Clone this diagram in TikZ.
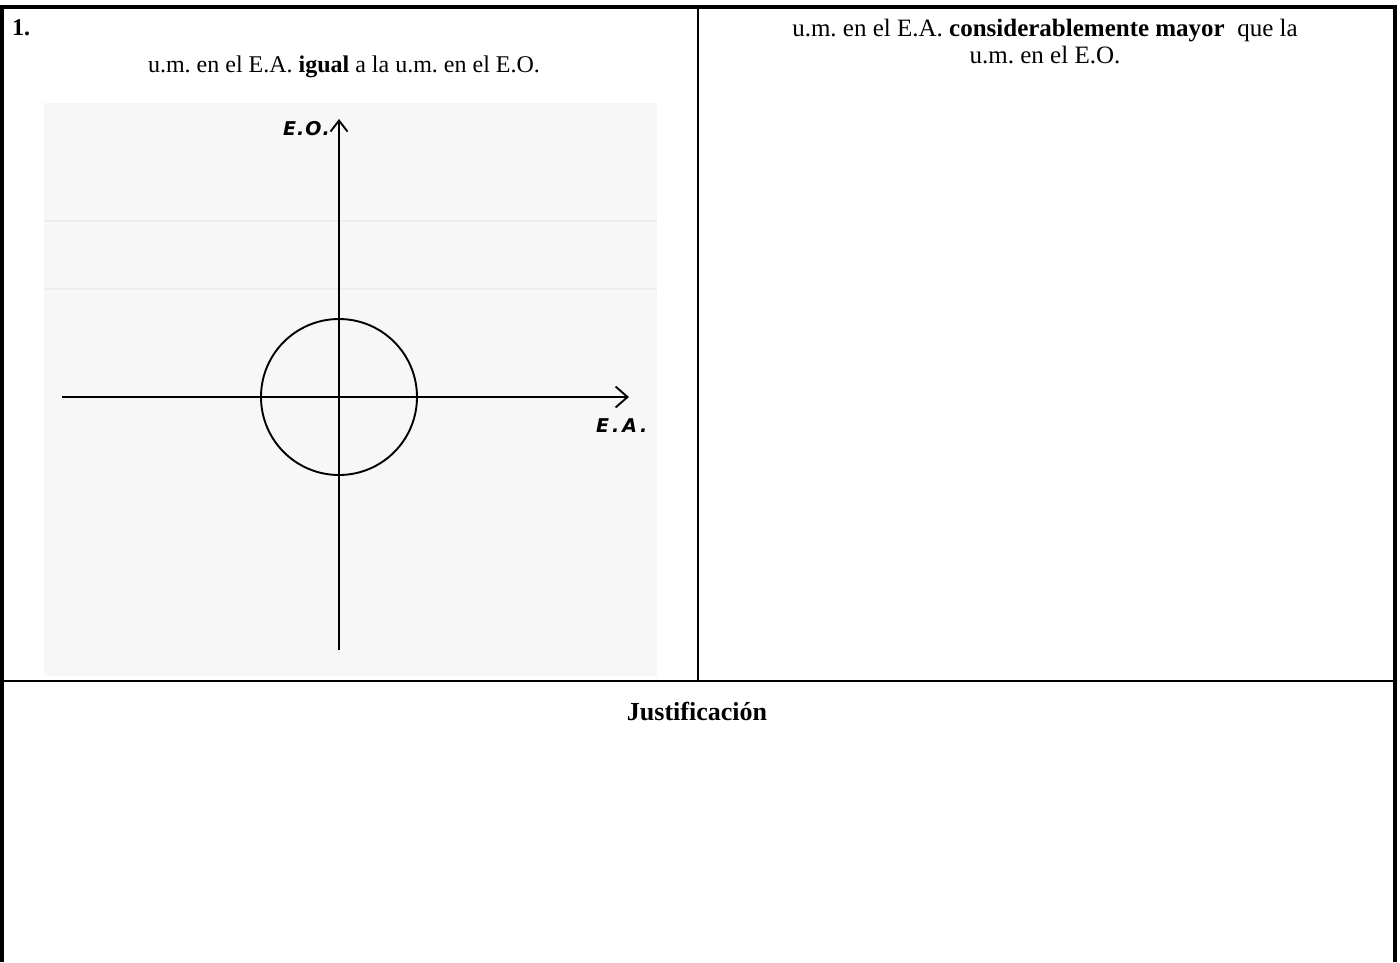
\documentclass[tikz,border=0pt]{standalone}
\usepackage{fontspec}
\setmainfont{Liberation Serif}
\newfontfamily\handfont{DejaVu Sans}
\usetikzlibrary{arrows.meta}
\frenchspacing
\tikzset{
  outer/.style={line width=3.6pt},
  inner/.style={line width=2.4pt},
  body/.style={font=\frenchspacing\fontsize{24}{28}\selectfont, inner sep=0pt},
  bodyr/.style={font=\frenchspacing\fontsize{25}{29}\selectfont, inner sep=0pt},
  axisv/.style={line width=1.9pt, -{Straight Barb[length=11pt,width=17pt,line width=1.9pt]}},
  axish/.style={line width=1.9pt, -{Straight Barb[length=12pt,width=21pt,line width=1.9pt]}},
  hand/.style={font=\handfont\bfseries\itshape\fontsize{19}{22}\selectfont, inner sep=0pt},
  scan/.style={fill=black!3, draw=none},
  ghost/.style={draw=black!7, line width=1.5pt}
}
\begin{document}
\begin{tikzpicture}[x=1pt,y=-1pt]
\useasboundingbox (0,0) rectangle (1400,962);
% table corners
\coordinate (tl) at (2,6.7);
\coordinate (tr) at (1395,6.7);
\coordinate (bl) at (2,962);
\coordinate (br) at (1395,962);
\coordinate (mt) at (698,6.7);
\coordinate (mb) at (698,681);
\coordinate (hl) at (2,681);
\coordinate (hr) at (1395,681);
% scanned image background
\fill[scan] (44,103) rectangle (657,676);
\draw[ghost] (44,221) -- (657,221);
\draw[ghost] (44,289) -- (657,289);
% table lines
\draw[outer] (0,6.7) -- (1397,6.7);
\draw[outer] (tl) -- (bl);
\draw[outer] (tr) -- (br);
\draw[inner] (mt) -- (mb);
\draw[inner] (hl) -- (hr);
% texts
\node[body, anchor=base west, font=\bfseries\fontsize{24}{28}\selectfont] (num) at (12,35) {1.};
\node[body, anchor=base] (left) at (344,72) {u.m. en el E.A. \textbf{igual} a la u.m. en el E.O.};
\node[bodyr, anchor=base] (right1) at (1045,36) {u.m. en el E.A. \textbf{considerablemente mayor}\ \ que la};
\node[bodyr, anchor=base] (right2) at (1045,63) {u.m. en el E.O.};
\node[body, anchor=base, font=\bfseries\fontsize{26}{30}\selectfont] (just) at (697,720) {Justificación};
% axes
\coordinate (vbot) at (339,650);
\coordinate (vtop) at (339,119);
\coordinate (hlft) at (62,397);
\coordinate (hrgt) at (629,397);
\coordinate (c) at (339,397);
\draw[axisv] (vbot) -- (vtop);
\draw[axish] (hlft) -- (hrgt);
\draw[line width=1.9pt] (c) circle[radius=78];
\node[hand, anchor=base east] (eo) at (330,135) {E\kern1pt.\kern1ptO\kern1pt.};
\node[hand, anchor=base west] (ea) at (596,432) {E\kern3pt.\kern3ptA\kern3pt.};
\end{tikzpicture}
\end{document}
